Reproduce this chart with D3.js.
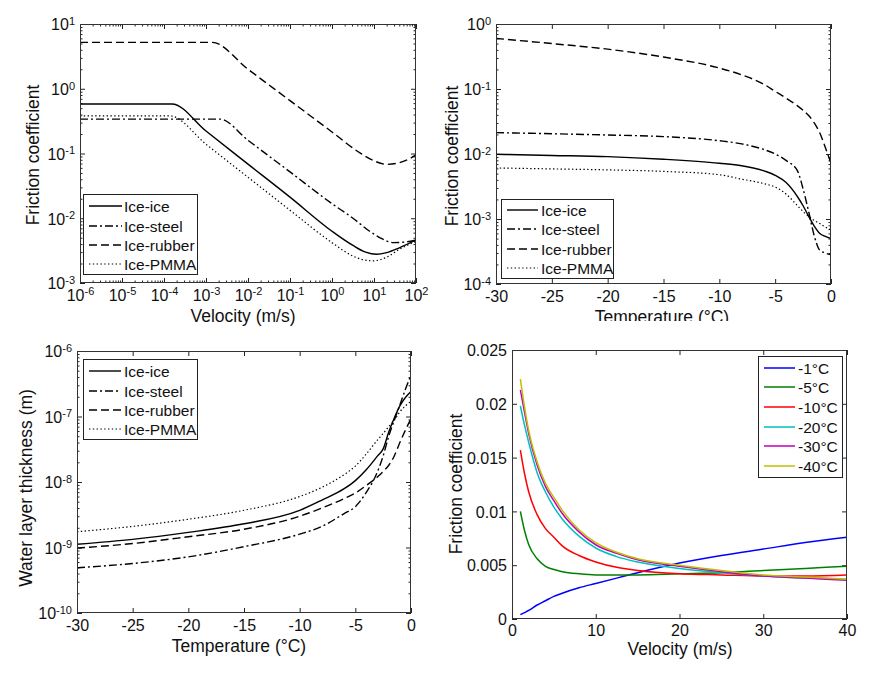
<!DOCTYPE html>
<html>
<head>
<meta charset="utf-8">
<script src="https://cdn.jsdelivr.net/npm/d3@7"></script>
<style>
  html, body { margin: 0; padding: 0; background: #fff; }
  svg { display: block; }
</style>
</head>
<body>
<script>
// ---------------- DATA ----------------
const seriesNames = ["Ice-ice", "Ice-steel", "Ice-rubber", "Ice-PMMA"];

// Panel 1: friction coefficient vs velocity (log-log), [velocity m/s, mu]
const p1IceIce = [[1e-6,0.58],[1.55e-4,0.58],[1e-3,0.222],[1e-2,0.0686],[1e-1,0.0212],[1,0.0063],[3.16,0.0038],[6.3,0.003],[11.5,0.00278],[20,0.00295],[40,0.0035],[100,0.0046]];
const p1IceSteel = [[1e-6,0.34],[2.15e-3,0.34],[1e-2,0.16],[1e-1,0.052],[1,0.0168],[3.16,0.0100],[7.9,0.0063],[15.8,0.0048],[29,0.0042],[56,0.0043],[100,0.0046]];
const p1IceRubber = [[1e-6,5.2],[1.4e-3,5.2],[1e-2,2.0],[1e-1,0.656],[1,0.215],[4.64,0.102],[10,0.077],[20,0.068],[40,0.072],[70,0.083],[100,0.095]];
const p1IcePMMA = [[1e-6,0.38],[1.4e-4,0.38],[1e-3,0.139],[1e-2,0.043],[1e-1,0.0133],[1,0.0042],[3.16,0.0026],[5.6,0.00228],[9.5,0.0022],[20,0.0025],[40,0.0033],[100,0.0044]];

// Panels 2 and 3 share a temperature grid (°C)
const temperature = [-30,-25,-20,-15,-10,-8,-6,-5,-4,-3,-2.5,-2,-1.5,-1,-0.5,0];
// Panel 2: friction coefficient vs temperature
const p2IceIce    = [0.0099,0.0095,0.0091,0.0083,0.0072,0.0066,0.0055,0.0047,0.0036,0.0022,0.0016,0.0011,0.00078,0.0006,0.00054,0.0005];
const p2IceSteel  = [0.0213,0.0205,0.0196,0.0185,0.016,0.0143,0.0117,0.0100,0.0079,0.0055,0.0029,0.0013,0.00055,0.00033,0.0003,0.00028];
const p2IceRubber = [0.6,0.5,0.41,0.31,0.21,0.165,0.118,0.092,0.072,0.055,0.047,0.039,0.03,0.021,0.0125,0.0072];
const p2IcePMMA   = [0.0061,0.0059,0.0057,0.0054,0.0048,0.0041,0.0035,0.0031,0.0024,0.0016,0.0013,0.0011,0.00095,0.00085,0.00075,0.00068];
// Panel 3: water layer thickness (m) vs temperature
const p3IceIce    = [1.12e-9,1.33e-9,1.7e-9,2.3e-9,3.7e-9,5.3e-9,7.9e-9,1.05e-8,1.55e-8,2.5e-8,3.2e-8,5.8e-8,9.5e-8,1.45e-7,1.95e-7,2.4e-7];
const p3IceSteel  = [4.9e-10,5.7e-10,7.2e-10,1.03e-9,1.6e-9,2.1e-9,3.3e-9,4.2e-9,7.0e-9,1.45e-8,2.5e-8,5.0e-8,8.8e-8,1.5e-7,2.6e-7,4.3e-7];
const p3IceRubber = [9.8e-10,1.15e-9,1.46e-9,1.9e-9,3.0e-9,4.0e-9,5.6e-9,6.8e-9,8.9e-9,1.2e-8,1.45e-8,1.8e-8,2.5e-8,4.0e-8,6.2e-8,9.3e-8];
const p3IcePMMA   = [1.74e-9,2.1e-9,2.7e-9,3.7e-9,6.0e-9,8.3e-9,1.3e-8,1.75e-8,2.7e-8,4.4e-8,5.5e-8,7.0e-8,8.7e-8,1.18e-7,1.45e-7,1.7e-7];

// Panel 4: friction coefficient vs velocity at several temperatures
const velocity = [1,1.5,2,3,4,5,6,8,10,12.5,15,20,25,30,35,40];
const tempLabels = ["-1°C","-5°C","-10°C","-20°C","-30°C","-40°C"];
const p4m1  = [0.0004,0.0006,0.0008,0.0013,0.0017,0.0021,0.0024,0.0029,0.0033,0.0038,0.0043,0.0052,0.0059,0.0065,0.0071,0.0076];
const p4m5  = [0.0100,0.0082,0.0069,0.0056,0.0049,0.0046,0.0044,0.0042,0.0041,0.0041,0.0041,0.0042,0.0043,0.0045,0.0047,0.0049];
const p4m10 = [0.0157,0.0135,0.0118,0.0097,0.0084,0.0076,0.0068,0.0059,0.0053,0.0048,0.0045,0.0042,0.0041,0.0040,0.0040,0.0041];
const p4m20 = [0.0198,0.0180,0.0164,0.0136,0.0118,0.0104,0.0093,0.0077,0.0066,0.0058,0.0053,0.0047,0.0043,0.0040,0.0038,0.0037];
const p4m30 = [0.0213,0.0192,0.0172,0.0143,0.0123,0.0110,0.0098,0.0081,0.0069,0.0061,0.0055,0.0049,0.0044,0.0040,0.0038,0.0036];
const p4m40 = [0.0223,0.0197,0.0175,0.0146,0.0126,0.0113,0.0101,0.0083,0.0071,0.0062,0.0056,0.0050,0.0045,0.0041,0.0039,0.0037];

// Tick values / labels
const p1XExponents = [-6,-5,-4,-3,-2,-1,0,1,2];
const p1YExponents = [-3,-2,-1,0,1];
const p2YExponents = [-4,-3,-2,-1,0];
const p3YExponents = [-10,-9,-8,-7,-6];
const tempTicks = [-30,-25,-20,-15,-10,-5,0];
const p4XTicks = [0,10,20,30,40];
const p4YTicks = [0,0.005,0.01,0.015,0.02,0.025];
const p4YTickLabels = ["0","0.005","0.01","0.015","0.02","0.025"];

// ---------------- DRAWING ----------------
const FONT = '"Liberation Sans", Arial, Helvetica, sans-serif';
const INK = "#111";
const W = 887, H = 674;
const svg = d3.select("body").append("svg").attr("width", W).attr("height", H)
  .style("font-family", FONT);

const styles = {
  "Ice-ice":    {dash: null, width: 1.4},
  "Ice-steel":  {dash: "8,3,2,3", width: 1.4},
  "Ice-rubber": {dash: "8,4", width: 1.4},
  "Ice-PMMA":   {dash: "1.4,2.4", width: 1.2}
};
const colors = ["#0000ff","#008000","#ff0000","#00bfbf","#bf00bf","#bfbf00"];

function minorLog(e0, e1) {
  const out = [];
  for (let e = e0; e < e1; e++) for (let k = 2; k <= 9; k++) out.push(k * Math.pow(10, e));
  return out;
}

function expLabel(sel) {
  sel.each(function(d) {
    const t = d3.select(this).text(null);
    const e = Math.round(Math.log10(d));
    t.append("tspan").text("10");
    t.append("tspan").attr("dy", "-0.5em").style("font-size", "11px").text(String(e));
  });
}

function drawPanel(cfg) {
  const g = svg.append("g");
  const {x, y, L, R, T, B} = cfg;
  const major = 5, minor = 2.5;

  g.append("rect").attr("x", L).attr("y", T).attr("width", R - L).attr("height", B - T).attr("fill", "#fff");

  const mk = (axisFn, scale, vals, size, tx, ty) => {
    const a = g.append("g").attr("transform", `translate(${tx},${ty})`)
      .call(axisFn(scale).tickValues(vals).tickSize(-size).tickSizeOuter(0).tickFormat(""));
    a.select(".domain").remove();
    a.attr("color", "#222");
    a.selectAll("line").attr("stroke-width", 1);
    return a;
  };
  const bx = mk(d3.axisBottom, x, cfg.xTicks, major, 0, B);
  mk(d3.axisTop, x, cfg.xTicks, major, 0, T);
  const ly = mk(d3.axisLeft, y, cfg.yTicks, major, L, 0);
  mk(d3.axisRight, y, cfg.yTicks, major, R, 0);
  if (cfg.xMinor) { mk(d3.axisBottom, x, cfg.xMinor, minor, 0, B); mk(d3.axisTop, x, cfg.xMinor, minor, 0, T); }
  if (cfg.yMinor) { mk(d3.axisLeft, y, cfg.yMinor, minor, L, 0); mk(d3.axisRight, y, cfg.yMinor, minor, R, 0); }

  const bt = bx.selectAll(".tick text").attr("y", cfg.xLabelOffset || 17.5).attr("dy", null)
    .attr("fill", INK).style("font-size", "16px").style("font-family", FONT);
  if (cfg.xLog) expLabel(bt); else bt.text((d, i) => cfg.xTickLabels ? cfg.xTickLabels[i] : d);
  const lt = ly.selectAll(".tick text").attr("x", -5).attr("dy", "0.36em").attr("text-anchor", "end")
    .attr("fill", INK).style("font-size", "16px").style("font-family", FONT);
  if (cfg.yLog) expLabel(lt); else lt.text((d, i) => cfg.yTickLabels ? cfg.yTickLabels[i] : d);

  const clipId = "clip" + cfg.id;
  svg.append("clipPath").attr("id", clipId).append("rect")
    .attr("x", L).attr("y", T).attr("width", R - L).attr("height", B - T);
  const line = d3.line().x(d => x(d[0])).y(d => y(d[1])).curve(d3.curveMonotoneX);
  const lg = g.append("g").attr("clip-path", `url(#${clipId})`);
  cfg.series.forEach(s => {
    lg.append("path").datum(s.data).attr("d", line).attr("fill", "none")
      .attr("stroke", s.color).attr("stroke-width", s.width)
      .attr("stroke-dasharray", s.dash).attr("stroke-linejoin", "round");
  });

  g.append("rect").attr("x", L + 0.5).attr("y", T + 0.5).attr("width", R - L - 1).attr("height", B - T - 1)
    .attr("fill", "none").attr("stroke", "#333").attr("stroke-width", 1);

  const lgd = cfg.legend;
  const lgG = g.append("g");
  lgG.append("rect").attr("x", lgd.x0 + 0.5).attr("y", lgd.y0 + 0.5)
    .attr("width", lgd.x1 - lgd.x0).attr("height", lgd.y1 - lgd.y0)
    .attr("fill", "#fff").attr("stroke", "#222").attr("stroke-width", 1);
  cfg.series.forEach((s, i) => {
    const ry = lgd.rows[i];
    lgG.append("line").attr("x1", lgd.l0).attr("x2", lgd.l1).attr("y1", ry).attr("y2", ry)
      .attr("stroke", s.color).attr("stroke-width", s.width).attr("stroke-dasharray", s.dash);
    lgG.append("text").attr("x", lgd.tx).attr("y", ry + 5.5).attr("fill", INK)
      .style("font-size", "15.5px").text(s.name);
  });

  const xt = g.append("text").attr("x", cfg.xTitle.x).attr("y", cfg.xTitle.y).attr("text-anchor", "middle")
    .attr("fill", INK).style("font-size", "17.5px").text(cfg.xTitle.text);
  if (cfg.xTitle.clip) xt.attr("clip-path", `url(#${cfg.xTitle.clip})`);
  g.append("text").attr("transform", `translate(${cfg.yTitle.x},${cfg.yTitle.y}) rotate(-90)`)
    .attr("text-anchor", "middle").attr("fill", INK).style("font-size", "17.5px").text(cfg.yTitle.text);
}

const blackSeries = (arrs) => arrs.map((a, i) => Object.assign({name: seriesNames[i], data: a, color: "#000"}, styles[seriesNames[i]]));
const zipT = (vals) => temperature.map((t, i) => [t, vals[i]]);
const zipV = (vals) => velocity.map((v, i) => [v, vals[i]]);

// Panel 1
{
  const L = 80, R = 416, T = 24, B = 283;
  drawPanel({
    id: 1, L, R, T, B,
    x: d3.scaleLog().domain([1e-6, 1e2]).range([L, R]),
    y: d3.scaleLog().domain([1e-3, 1e1]).range([B, T]),
    xLog: true, yLog: true,
    xTicks: p1XExponents.map(e => Math.pow(10, e)), xMinor: minorLog(-6, 2),
    yTicks: p1YExponents.map(e => Math.pow(10, e)), yMinor: minorLog(-3, 1),
    series: blackSeries([p1IceIce, p1IceSteel, p1IceRubber, p1IcePMMA]),
    legend: {x0: 83, x1: 197, y0: 194, y1: 274, rows: [206, 226, 245, 264], l0: 89, l1: 122, tx: 124},
    xTitle: {x: 243, y: 322, text: "Velocity (m/s)"},
    yTitle: {x: 38.5, y: 155, text: "Friction coefficient"}
  });
}
svg.append("clipPath").attr("id", "clipT2").append("rect").attr("x", 440).attr("y", 0).attr("width", 447).attr("height", 321);
// Panel 2
{
  const L = 496, R = 831, T = 24, B = 284;
  drawPanel({
    id: 2, L, R, T, B,
    x: d3.scaleLinear().domain([-30, 0]).range([L, R]),
    y: d3.scaleLog().domain([1e-4, 1e0]).range([B, T]),
    xLog: false, yLog: true,
    xTicks: tempTicks,
    yTicks: p2YExponents.map(e => Math.pow(10, e)), yMinor: minorLog(-4, 0),
    series: blackSeries([zipT(p2IceIce), zipT(p2IceSteel), zipT(p2IceRubber), zipT(p2IcePMMA)]),
    legend: {x0: 501, x1: 613, y0: 199, y1: 278, rows: [210, 229, 249, 268], l0: 507, l1: 538, tx: 541},
    xTitle: {x: 662, y: 323, text: "Temperature (°C)", clip: "clipT2"},
    yTitle: {x: 458, y: 156, text: "Friction coefficient"}
  });
}
// Panel 3
{
  const L = 77, R = 411, T = 351, B = 613;
  drawPanel({
    id: 3, L, R, T, B,
    x: d3.scaleLinear().domain([-30, 0]).range([L, R]),
    y: d3.scaleLog().domain([1e-10, 1e-6]).range([B, T]),
    xLog: false, yLog: true,
    xTicks: tempTicks,
    yTicks: p3YExponents.map(e => Math.pow(10, e)), yMinor: minorLog(-10, -6),
    series: blackSeries([zipT(p3IceIce), zipT(p3IceSteel), zipT(p3IceRubber), zipT(p3IcePMMA)]),
    legend: {x0: 83, x1: 197, y0: 359, y1: 439, rows: [371, 391, 410, 429], l0: 89, l1: 121, tx: 124},
    xTitle: {x: 239, y: 652, text: "Temperature (°C)"},
    yTitle: {x: 31.5, y: 488, text: "Water layer thickness (m)"}
  });
}
// Panel 4
{
  const L = 512, R = 847, T = 350, B = 619;
  const arr = [p4m1, p4m5, p4m10, p4m20, p4m30, p4m40];
  drawPanel({
    id: 4, L, R, T, B,
    x: d3.scaleLinear().domain([0, 40]).range([L, R]),
    y: d3.scaleLinear().domain([0, 0.025]).range([B, T]),
    xLog: false, yLog: false,
    xTicks: p4XTicks, yTicks: p4YTicks, yTickLabels: p4YTickLabels,
    xLabelOffset: 16.5,
    series: arr.map((a, i) => ({name: tempLabels[i], data: zipV(a), color: colors[i], width: 1.5, dash: null})),
    legend: {x0: 758, x1: 842, y0: 356, y1: 477, rows: [368, 387, 407, 427, 446, 466], l0: 764, l1: 795, tx: 798},
    xTitle: {x: 680, y: 655, text: "Velocity (m/s)"},
    yTitle: {x: 462, y: 484, text: "Friction coefficient"}
  });
}
</script>
</body>
</html>
